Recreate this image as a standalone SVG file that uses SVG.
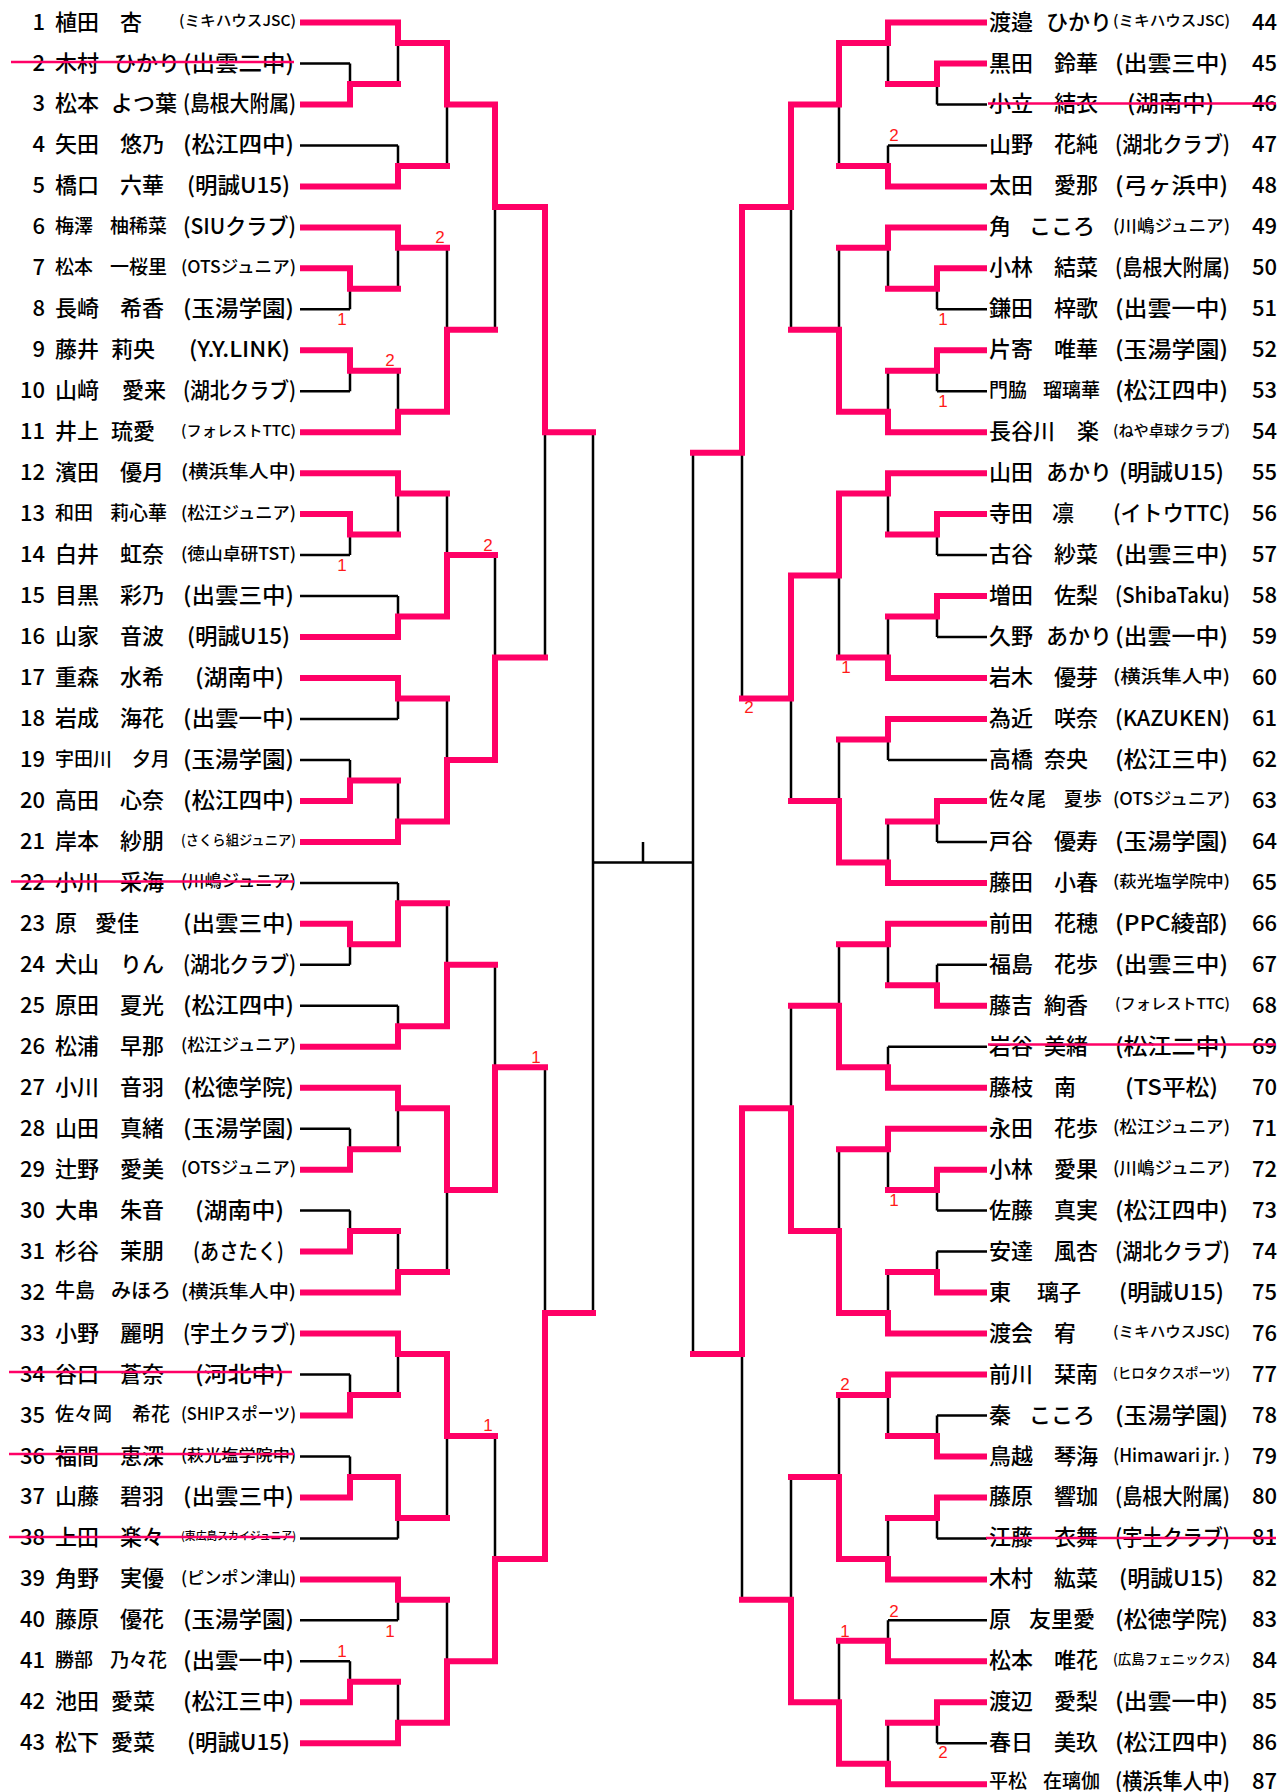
<svg xmlns="http://www.w3.org/2000/svg" width="1283" height="1792" viewBox="0 0 1283 1792">
<style>
text{font-family:"Noto Sans CJK JP","Noto Sans CJK SC",sans-serif;font-weight:500;dominant-baseline:central;fill:#000;transform:translateY(-3px)}
.no{font-size:22px;text-anchor:end}
.nr{font-size:22px}
.nm{font-size:22px}
.ns{font-size:19px}
.n20{font-size:20px}
.b{font-size:22px}
.m18{font-size:18px}
.m17{font-size:17px}
.s16{font-size:16px}
.s15{font-size:15px}
.s14{font-size:14px}
.t11{font-size:11px}
.lbl{font-family:"Liberation Sans Narrow","Liberation Sans",sans-serif;font-weight:400;font-size:17px;fill:#ff1a1a;text-anchor:middle;transform:translateY(-1px)}
.bk{fill:none;stroke:#000;stroke-width:2.5}
.pk{fill:none;stroke:#ff0066;stroke-width:6;stroke-linecap:square}
.st{stroke:#ff0066;stroke-width:2.5}
</style>
<rect width="1283" height="1792" fill="#fff"/>
<g id="connectors">
<path class="bk" d="M300 63.5H350M300 145.4H398M300 309.3H350M300 391.2H350M300 555.1H350M300 596.1H398M300 719H398M300 760H350M300 882.9H398M300 964.8H350M300 1005.8H398M300 1128.7H350M300 1210.6H350M300 1374.5H350M300 1456.5H350M300 1538.4H398M300 1620.3H398M300 1661.3H350
M350 63.5V83.9M350 309.3V288.8M350 391.2V370.7M350 555.1V534.6M350 760V780.4M350 964.8V944.3M350 1128.7V1149.2M350 1210.6V1231.1M350 1374.5V1395M350 1456.5V1476.9M350 1661.3V1681.8
M398 83.9V43M398 145.4V165.9M398 288.8V247.8M398 370.7V411.7M398 534.6V493.6M398 596.1V616.6M398 719V698.5M398 780.4V821.4M398 882.9V903.3M398 1005.8V1026.3M398 1149.2V1108.2M398 1231.1V1272.1M398 1395V1354M398 1538.4V1517.9M398 1620.3V1599.8M398 1681.8V1722.8
M447 165.9V104.4M447 247.8V329.8M447 493.6V555.1M447 698.5V760M447 903.3V964.8M447 1272.1V1190.1M447 1517.9V1436M447 1599.8V1661.3
M495 329.8V206.9M495 555.1V657.5M495 964.8V1067.2M495 1436V1558.9
M545 657.5V432.2M545 1067.2V1313
M593 432.2V1313M593 862.4H693M643 842V862.4"/>
<path class="bk" d="M987 104.4H937M987 145.4H888M987 309.3H937M987 391.2H937M987 555.1H937M987 637.1H937M987 760H888M987 841.9H937M987 964.8H937M987 1046.8H888M987 1210.6H937M987 1251.6H937M987 1415.5H937M987 1538.4H937M987 1620.3H888M987 1743.2H937
M937 104.4V83.9M937 309.3V288.8M937 391.2V370.7M937 555.1V534.6M937 637.1V616.6M937 841.9V821.4M937 964.8V985.3M937 1210.6V1190.1M937 1251.6V1272.1M937 1415.5V1436M937 1538.4V1517.9M937 1743.2V1722.8
M888 83.9V43M888 145.4V165.9M888 288.8V247.8M888 370.7V411.7M888 534.6V493.6M888 616.6V657.5M888 760V739.5M888 821.4V862.4M888 985.3V944.3M888 1046.8V1067.2M888 1190.1V1149.2M888 1272.1V1313M888 1436V1395M888 1517.9V1558.9M888 1620.3V1640.8M888 1722.8V1763.7
M839 165.9V104.4M839 247.8V329.8M839 657.5V575.6M839 739.5V800.9M839 944.3V1005.8M839 1149.2V1231.1M839 1395V1476.9M839 1640.8V1702.3
M791 329.8V206.9M791 800.9V698.5M791 1005.8V1108.2M791 1476.9V1599.8
M742 698.5V452.7M742 1599.8V1354
M693 452.7V1354"/>
<path class="pk" d="M303 22.5H398M303 104.4H350M303 186.4H398M303 227.4H398M303 268.3H350M303 350.3H350M303 432.2H398M303 473.2H398M303 514.1H350M303 637.1H398M303 678H398M303 800.9H350M303 841.9H398M303 923.8H350M303 1046.8H398M303 1087.7H398M303 1169.7H350M303 1251.6H350M303 1292.6H398M303 1333.5H398M303 1415.5H350M303 1497.4H350M303 1579.4H398M303 1702.3H350M303 1743.2H398
M350 104.4V83.9M350 268.3V288.8M350 350.3V370.7M350 514.1V534.6M350 800.9V780.4M350 923.8V944.3M350 1169.7V1149.2M350 1251.6V1231.1M350 1415.5V1395M350 1497.4V1476.9M350 1702.3V1681.8
M398 22.5V43M398 186.4V165.9M398 227.4V247.8M398 432.2V411.7M398 473.2V493.6M398 637.1V616.6M398 678V698.5M398 841.9V821.4M398 944.3V903.3M398 1046.8V1026.3M398 1087.7V1108.2M398 1292.6V1272.1M398 1333.5V1354M398 1476.9V1517.9M398 1579.4V1599.8M398 1743.2V1722.8
M447 43V104.4M447 411.7V329.8M447 616.6V555.1M447 821.4V760M447 1026.3V964.8M447 1108.2V1190.1M447 1354V1436M447 1722.8V1661.3
M495 104.4V206.9M495 760V657.5M495 1190.1V1067.2M495 1661.3V1558.9
M545 206.9V432.2M545 1558.9V1313
M350 83.9H398M350 288.8H398M350 370.7H398M350 534.6H398M350 780.4H398M350 944.3H398M350 1149.2H398M350 1231.1H398M350 1395H398M350 1476.9H398M350 1681.8H398
M398 43H447M398 165.9H447M398 247.8H447M398 411.7H447M398 493.6H447M398 616.6H447M398 698.5H447M398 821.4H447M398 903.3H447M398 1026.3H447M398 1108.2H447M398 1272.1H447M398 1354H447M398 1517.9H447M398 1599.8H447M398 1722.8H447
M447 104.4H495M447 329.8H495M447 555.1H495M447 760H495M447 964.8H495M447 1190.1H495M447 1436H495M447 1661.3H495
M495 206.9H545M495 657.5H545M495 1067.2H545M495 1558.9H545
M545 432.2H593M545 1313H593"/>
<path class="pk" d="M984 22.5H888M984 63.5H937M984 186.4H888M984 227.4H888M984 268.3H937M984 350.3H937M984 432.2H888M984 473.2H888M984 514.1H937M984 596.1H937M984 678H888M984 719H888M984 800.9H937M984 882.9H888M984 923.8H888M984 1005.8H937M984 1087.7H888M984 1128.7H888M984 1169.7H937M984 1292.6H937M984 1333.5H888M984 1374.5H888M984 1456.5H937M984 1497.4H937M984 1579.4H888M984 1661.3H888M984 1702.3H937M984 1784.2H888
M937 63.5V83.9M937 268.3V288.8M937 350.3V370.7M937 514.1V534.6M937 596.1V616.6M937 800.9V821.4M937 1005.8V985.3M937 1169.7V1190.1M937 1292.6V1272.1M937 1456.5V1436M937 1497.4V1517.9M937 1702.3V1722.8
M888 22.5V43M888 186.4V165.9M888 227.4V247.8M888 432.2V411.7M888 473.2V493.6M888 678V657.5M888 719V739.5M888 882.9V862.4M888 923.8V944.3M888 1087.7V1067.2M888 1128.7V1149.2M888 1333.5V1313M888 1374.5V1395M888 1579.4V1558.9M888 1661.3V1640.8M888 1784.2V1763.7
M839 43V104.4M839 411.7V329.8M839 493.6V575.6M839 862.4V800.9M839 1067.2V1005.8M839 1313V1231.1M839 1558.9V1476.9M839 1763.7V1702.3
M791 104.4V206.9M791 575.6V698.5M791 1231.1V1108.2M791 1702.3V1599.8
M742 206.9V452.7M742 1108.2V1354
M937 83.9H888M937 288.8H888M937 370.7H888M937 534.6H888M937 616.6H888M937 821.4H888M937 985.3H888M937 1190.1H888M937 1272.1H888M937 1436H888M937 1517.9H888M937 1722.8H888
M888 43H839M888 165.9H839M888 247.8H839M888 411.7H839M888 493.6H839M888 657.5H839M888 739.5H839M888 862.4H839M888 944.3H839M888 1067.2H839M888 1149.2H839M888 1313H839M888 1395H839M888 1558.9H839M888 1640.8H839M888 1763.7H839
M839 104.4H791M839 329.8H791M839 575.6H791M839 800.9H791M839 1005.8H791M839 1231.1H791M839 1476.9H791M839 1702.3H791
M791 206.9H742M791 698.5H742M791 1108.2H742M791 1599.8H742
M742 452.7H693M742 1354H693"/>
</g>
<g id="scores">
<text class="lbl" x="342" y="320">1</text>
<text class="lbl" x="440" y="238">2</text>
<text class="lbl" x="390" y="361">2</text>
<text class="lbl" x="342" y="566">1</text>
<text class="lbl" x="488" y="546">2</text>
<text class="lbl" x="536" y="1058">1</text>
<text class="lbl" x="488" y="1426">1</text>
<text class="lbl" x="390" y="1632">1</text>
<text class="lbl" x="342" y="1652">1</text>
<text class="lbl" x="894" y="136">2</text>
<text class="lbl" x="943" y="320">1</text>
<text class="lbl" x="943" y="402">1</text>
<text class="lbl" x="846" y="668">1</text>
<text class="lbl" x="749" y="708">2</text>
<text class="lbl" x="894" y="1201">1</text>
<text class="lbl" x="845" y="1385">2</text>
<text class="lbl" x="894" y="1612">2</text>
<text class="lbl" x="845" y="1632">1</text>
<text class="lbl" x="943" y="1753">2</text>
</g>
<g id="p1"><text class="no" x="45" y="22.5">1</text><text class="nm" x="55" y="22.5">植田</text><text class="nm" x="120" y="22.5">杏</text><text class="s15" x="179" y="22.5" textLength="117" lengthAdjust="spacingAndGlyphs">(ミキハウスJSC)</text></g>
<g id="p2"><text class="no" x="45" y="63.5">2</text><text class="nm" x="55" y="63.5">木村</text><text class="nm" x="114" y="63.5">ひかり</text><text class="b" x="183" y="63.5" textLength="111" lengthAdjust="spacingAndGlyphs">(出雲二中)</text><line class="st" x1="11" y1="62" x2="294" y2="62"/></g>
<g id="p3"><text class="no" x="45" y="104.4">3</text><text class="nm" x="55" y="104.4">松本</text><text class="nm" x="111" y="104.4">よつ葉</text><text class="b" x="183" y="104.4" textLength="113" lengthAdjust="spacingAndGlyphs">(島根大附属)</text></g>
<g id="p4"><text class="no" x="45" y="145.4">4</text><text class="nm" x="55" y="145.4">矢田</text><text class="nm" x="120" y="145.4">悠乃</text><text class="b" x="183" y="145.4" textLength="111" lengthAdjust="spacingAndGlyphs">(松江四中)</text></g>
<g id="p5"><text class="no" x="45" y="186.4">5</text><text class="nm" x="55" y="186.4">橋口</text><text class="nm" x="120" y="186.4">六華</text><text class="b" x="187" y="186.4" textLength="103" lengthAdjust="spacingAndGlyphs">(明誠U15)</text></g>
<g id="p6"><text class="no" x="45" y="227.4">6</text><text class="ns" x="55" y="227.4">梅澤</text><text class="ns" x="110" y="227.4">柚稀菜</text><text class="b" x="183" y="227.4" textLength="113" lengthAdjust="spacingAndGlyphs">(SIUクラブ)</text></g>
<g id="p7"><text class="no" x="45" y="268.3">7</text><text class="ns" x="55" y="268.3">松本</text><text class="ns" x="110" y="268.3">一桜里</text><text class="m17" x="181" y="268.3" textLength="115" lengthAdjust="spacingAndGlyphs">(OTSジュニア)</text></g>
<g id="p8"><text class="no" x="45" y="309.3">8</text><text class="nm" x="55" y="309.3">長崎</text><text class="nm" x="120" y="309.3">希香</text><text class="b" x="183" y="309.3" textLength="111" lengthAdjust="spacingAndGlyphs">(玉湯学園)</text></g>
<g id="p9"><text class="no" x="45" y="350.3">9</text><text class="nm" x="55" y="350.3">藤井</text><text class="nm" x="111" y="350.3">莉央</text><text class="b" x="189" y="350.3" textLength="101" lengthAdjust="spacingAndGlyphs">(Y.Y.LINK)</text></g>
<g id="p10"><text class="no" x="45" y="391.2">10</text><text class="nm" x="55" y="391.2">山﨑</text><text class="nm" x="122" y="391.2">愛来</text><text class="b" x="183" y="391.2" textLength="113" lengthAdjust="spacingAndGlyphs">(湖北クラブ)</text></g>
<g id="p11"><text class="no" x="45" y="432.2">11</text><text class="nm" x="55" y="432.2">井上</text><text class="nm" x="111" y="432.2">琉愛</text><text class="s15" x="181" y="432.2" textLength="115" lengthAdjust="spacingAndGlyphs">(フォレストTTC)</text></g>
<g id="p12"><text class="no" x="45" y="473.2">12</text><text class="nm" x="55" y="473.2">濱田</text><text class="nm" x="120" y="473.2">優月</text><text class="m18" x="181" y="473.2" textLength="115" lengthAdjust="spacingAndGlyphs">(横浜隼人中)</text></g>
<g id="p13"><text class="no" x="45" y="514.1">13</text><text class="ns" x="55" y="514.1">和田</text><text class="ns" x="110" y="514.1">莉心華</text><text class="m17" x="181" y="514.1" textLength="115" lengthAdjust="spacingAndGlyphs">(松江ジュニア)</text></g>
<g id="p14"><text class="no" x="45" y="555.1">14</text><text class="nm" x="55" y="555.1">白井</text><text class="nm" x="120" y="555.1">虹奈</text><text class="m17" x="181" y="555.1" textLength="115" lengthAdjust="spacingAndGlyphs">(徳山卓研TST)</text></g>
<g id="p15"><text class="no" x="45" y="596.1">15</text><text class="nm" x="55" y="596.1">目黒</text><text class="nm" x="120" y="596.1">彩乃</text><text class="b" x="183" y="596.1" textLength="111" lengthAdjust="spacingAndGlyphs">(出雲三中)</text></g>
<g id="p16"><text class="no" x="45" y="637.1">16</text><text class="nm" x="55" y="637.1">山家</text><text class="nm" x="120" y="637.1">音波</text><text class="b" x="187" y="637.1" textLength="103" lengthAdjust="spacingAndGlyphs">(明誠U15)</text></g>
<g id="p17"><text class="no" x="45" y="678">17</text><text class="nm" x="55" y="678">重森</text><text class="nm" x="120" y="678">水希</text><text class="b" x="195" y="678" textLength="89" lengthAdjust="spacingAndGlyphs">(湖南中)</text></g>
<g id="p18"><text class="no" x="45" y="719">18</text><text class="nm" x="55" y="719">岩成</text><text class="nm" x="120" y="719">海花</text><text class="b" x="183" y="719" textLength="111" lengthAdjust="spacingAndGlyphs">(出雲一中)</text></g>
<g id="p19"><text class="no" x="45" y="760">19</text><text class="ns" x="55" y="760">宇田川</text><text class="ns" x="132" y="760">夕月</text><text class="b" x="183" y="760" textLength="111" lengthAdjust="spacingAndGlyphs">(玉湯学園)</text></g>
<g id="p20"><text class="no" x="45" y="800.9">20</text><text class="nm" x="55" y="800.9">高田</text><text class="nm" x="120" y="800.9">心奈</text><text class="b" x="183" y="800.9" textLength="111" lengthAdjust="spacingAndGlyphs">(松江四中)</text></g>
<g id="p21"><text class="no" x="45" y="841.9">21</text><text class="nm" x="55" y="841.9">岸本</text><text class="nm" x="120" y="841.9">紗朋</text><text class="s14" x="181" y="841.9" textLength="115" lengthAdjust="spacingAndGlyphs">(さくら組ジュニア)</text></g>
<g id="p22"><text class="no" x="45" y="882.9">22</text><text class="nm" x="55" y="882.9">小川</text><text class="nm" x="120" y="882.9">采海</text><text class="m17" x="181" y="882.9" textLength="115" lengthAdjust="spacingAndGlyphs">(川嶋ジュニア)</text><line class="st" x1="11" y1="881.5" x2="294" y2="881.5"/></g>
<g id="p23"><text class="no" x="45" y="923.8">23</text><text class="nm" x="55" y="923.8">原</text><text class="nm" x="95" y="923.8">愛佳</text><text class="b" x="183" y="923.8" textLength="111" lengthAdjust="spacingAndGlyphs">(出雲三中)</text></g>
<g id="p24"><text class="no" x="45" y="964.8">24</text><text class="nm" x="55" y="964.8">犬山</text><text class="nm" x="120" y="964.8">りん</text><text class="b" x="183" y="964.8" textLength="113" lengthAdjust="spacingAndGlyphs">(湖北クラブ)</text></g>
<g id="p25"><text class="no" x="45" y="1005.8">25</text><text class="nm" x="55" y="1005.8">原田</text><text class="nm" x="120" y="1005.8">夏光</text><text class="b" x="183" y="1005.8" textLength="111" lengthAdjust="spacingAndGlyphs">(松江四中)</text></g>
<g id="p26"><text class="no" x="45" y="1046.8">26</text><text class="nm" x="55" y="1046.8">松浦</text><text class="nm" x="120" y="1046.8">早那</text><text class="m17" x="181" y="1046.8" textLength="115" lengthAdjust="spacingAndGlyphs">(松江ジュニア)</text></g>
<g id="p27"><text class="no" x="45" y="1087.7">27</text><text class="nm" x="55" y="1087.7">小川</text><text class="nm" x="120" y="1087.7">音羽</text><text class="b" x="183" y="1087.7" textLength="111" lengthAdjust="spacingAndGlyphs">(松徳学院)</text></g>
<g id="p28"><text class="no" x="45" y="1128.7">28</text><text class="nm" x="55" y="1128.7">山田</text><text class="nm" x="120" y="1128.7">真緒</text><text class="b" x="183" y="1128.7" textLength="111" lengthAdjust="spacingAndGlyphs">(玉湯学園)</text></g>
<g id="p29"><text class="no" x="45" y="1169.7">29</text><text class="nm" x="55" y="1169.7">辻野</text><text class="nm" x="120" y="1169.7">愛美</text><text class="m17" x="181" y="1169.7" textLength="115" lengthAdjust="spacingAndGlyphs">(OTSジュニア)</text></g>
<g id="p30"><text class="no" x="45" y="1210.6">30</text><text class="nm" x="55" y="1210.6">大串</text><text class="nm" x="120" y="1210.6">朱音</text><text class="b" x="195" y="1210.6" textLength="89" lengthAdjust="spacingAndGlyphs">(湖南中)</text></g>
<g id="p31"><text class="no" x="45" y="1251.6">31</text><text class="nm" x="55" y="1251.6">杉谷</text><text class="nm" x="120" y="1251.6">茉朋</text><text class="b" x="193" y="1251.6" textLength="91" lengthAdjust="spacingAndGlyphs">(あさたく)</text></g>
<g id="p32"><text class="no" x="45" y="1292.6">32</text><text class="n20" x="55" y="1292.6">牛島</text><text class="n20" x="111" y="1292.6">みほろ</text><text class="m18" x="181" y="1292.6" textLength="115" lengthAdjust="spacingAndGlyphs">(横浜隼人中)</text></g>
<g id="p33"><text class="no" x="45" y="1333.5">33</text><text class="nm" x="55" y="1333.5">小野</text><text class="nm" x="120" y="1333.5">麗明</text><text class="b" x="183" y="1333.5" textLength="113" lengthAdjust="spacingAndGlyphs">(宇土クラブ)</text></g>
<g id="p34"><text class="no" x="45" y="1374.5">34</text><text class="nm" x="55" y="1374.5">谷口</text><text class="nm" x="120" y="1374.5">蒼奈</text><text class="b" x="195" y="1374.5" textLength="89" lengthAdjust="spacingAndGlyphs">(河北中)</text><line class="st" x1="9" y1="1372" x2="292" y2="1372"/></g>
<g id="p35"><text class="no" x="45" y="1415.5">35</text><text class="ns" x="55" y="1415.5">佐々岡</text><text class="ns" x="132" y="1415.5">希花</text><text class="m17" x="181" y="1415.5" textLength="115" lengthAdjust="spacingAndGlyphs">(SHIPスポーツ)</text></g>
<g id="p36"><text class="no" x="45" y="1456.5">36</text><text class="nm" x="55" y="1456.5">福間</text><text class="nm" x="120" y="1456.5">恵深</text><text class="s16" x="181" y="1456.5" textLength="115" lengthAdjust="spacingAndGlyphs">(萩光塩学院中)</text><line class="st" x1="9" y1="1454" x2="294" y2="1454"/></g>
<g id="p37"><text class="no" x="45" y="1497.4">37</text><text class="nm" x="55" y="1497.4">山藤</text><text class="nm" x="120" y="1497.4">碧羽</text><text class="b" x="183" y="1497.4" textLength="111" lengthAdjust="spacingAndGlyphs">(出雲三中)</text></g>
<g id="p38"><text class="no" x="45" y="1538.4">38</text><text class="nm" x="55" y="1538.4">上田</text><text class="nm" x="120" y="1538.4">楽々</text><text class="t11" x="181" y="1538.4" textLength="115" lengthAdjust="spacingAndGlyphs">(東広島スカイジュニア)</text><line class="st" x1="9" y1="1537" x2="294" y2="1537"/></g>
<g id="p39"><text class="no" x="45" y="1579.4">39</text><text class="nm" x="55" y="1579.4">角野</text><text class="nm" x="120" y="1579.4">実優</text><text class="m17" x="181" y="1579.4" textLength="115" lengthAdjust="spacingAndGlyphs">(ピンポン津山)</text></g>
<g id="p40"><text class="no" x="45" y="1620.3">40</text><text class="nm" x="55" y="1620.3">藤原</text><text class="nm" x="120" y="1620.3">優花</text><text class="b" x="183" y="1620.3" textLength="111" lengthAdjust="spacingAndGlyphs">(玉湯学園)</text></g>
<g id="p41"><text class="no" x="45" y="1661.3">41</text><text class="ns" x="55" y="1661.3">勝部</text><text class="ns" x="110" y="1661.3">乃々花</text><text class="b" x="183" y="1661.3" textLength="111" lengthAdjust="spacingAndGlyphs">(出雲一中)</text></g>
<g id="p42"><text class="no" x="45" y="1702.3">42</text><text class="nm" x="55" y="1702.3">池田</text><text class="nm" x="111" y="1702.3">愛菜</text><text class="b" x="183" y="1702.3" textLength="111" lengthAdjust="spacingAndGlyphs">(松江三中)</text></g>
<g id="p43"><text class="no" x="45" y="1743.2">43</text><text class="nm" x="55" y="1743.2">松下</text><text class="nm" x="111" y="1743.2">愛菜</text><text class="b" x="187" y="1743.2" textLength="103" lengthAdjust="spacingAndGlyphs">(明誠U15)</text></g>
<g id="p44"><text class="nm" x="989" y="22.5">渡邉</text><text class="nm" x="1046" y="22.5">ひかり</text><text class="s15" x="1113" y="22.5" textLength="117" lengthAdjust="spacingAndGlyphs">(ミキハウスJSC)</text><text class="nr" x="1252" y="22.5">44</text></g>
<g id="p45"><text class="nm" x="989" y="63.5">黒田</text><text class="nm" x="1054" y="63.5">鈴華</text><text class="b" x="1115" y="63.5" textLength="113" lengthAdjust="spacingAndGlyphs">(出雲三中)</text><text class="nr" x="1252" y="63.5">45</text></g>
<g id="p46"><text class="nm" x="989" y="104.4">小立</text><text class="nm" x="1054" y="104.4">結衣</text><text class="b" x="1127" y="104.4" textLength="87" lengthAdjust="spacingAndGlyphs">(湖南中)</text><text class="nr" x="1252" y="104.4">46</text><line class="st" x1="988" y1="103.5" x2="1276" y2="103.5"/></g>
<g id="p47"><text class="nm" x="989" y="145.4">山野</text><text class="nm" x="1054" y="145.4">花純</text><text class="b" x="1115" y="145.4" textLength="115" lengthAdjust="spacingAndGlyphs">(湖北クラブ)</text><text class="nr" x="1252" y="145.4">47</text></g>
<g id="p48"><text class="nm" x="989" y="186.4">太田</text><text class="nm" x="1054" y="186.4">愛那</text><text class="b" x="1115" y="186.4" textLength="113" lengthAdjust="spacingAndGlyphs">(弓ヶ浜中)</text><text class="nr" x="1252" y="186.4">48</text></g>
<g id="p49"><text class="nm" x="989" y="227.4">角</text><text class="nm" x="1029" y="227.4">こころ</text><text class="m17" x="1113" y="227.4" textLength="117" lengthAdjust="spacingAndGlyphs">(川嶋ジュニア)</text><text class="nr" x="1252" y="227.4">49</text></g>
<g id="p50"><text class="nm" x="989" y="268.3">小林</text><text class="nm" x="1054" y="268.3">結菜</text><text class="b" x="1115" y="268.3" textLength="115" lengthAdjust="spacingAndGlyphs">(島根大附属)</text><text class="nr" x="1252" y="268.3">50</text></g>
<g id="p51"><text class="nm" x="989" y="309.3">鎌田</text><text class="nm" x="1054" y="309.3">梓歌</text><text class="b" x="1115" y="309.3" textLength="113" lengthAdjust="spacingAndGlyphs">(出雲一中)</text><text class="nr" x="1252" y="309.3">51</text></g>
<g id="p52"><text class="nm" x="989" y="350.3">片寄</text><text class="nm" x="1054" y="350.3">唯華</text><text class="b" x="1115" y="350.3" textLength="113" lengthAdjust="spacingAndGlyphs">(玉湯学園)</text><text class="nr" x="1252" y="350.3">52</text></g>
<g id="p53"><text class="ns" x="989" y="391.2">門脇</text><text class="ns" x="1043" y="391.2">瑠璃華</text><text class="b" x="1115" y="391.2" textLength="113" lengthAdjust="spacingAndGlyphs">(松江四中)</text><text class="nr" x="1252" y="391.2">53</text></g>
<g id="p54"><text class="nm" x="989" y="432.2">長谷川</text><text class="nm" x="1077" y="432.2">楽</text><text class="s15" x="1113" y="432.2" textLength="117" lengthAdjust="spacingAndGlyphs">(ねや卓球クラブ)</text><text class="nr" x="1252" y="432.2">54</text></g>
<g id="p55"><text class="nm" x="989" y="473.2">山田</text><text class="nm" x="1046" y="473.2">あかり</text><text class="b" x="1119" y="473.2" textLength="105" lengthAdjust="spacingAndGlyphs">(明誠U15)</text><text class="nr" x="1252" y="473.2">55</text></g>
<g id="p56"><text class="nm" x="989" y="514.1">寺田</text><text class="nm" x="1052" y="514.1">凛</text><text class="b" x="1113" y="514.1" textLength="117" lengthAdjust="spacingAndGlyphs">(イトウTTC)</text><text class="nr" x="1252" y="514.1">56</text></g>
<g id="p57"><text class="nm" x="989" y="555.1">古谷</text><text class="nm" x="1054" y="555.1">紗菜</text><text class="b" x="1115" y="555.1" textLength="113" lengthAdjust="spacingAndGlyphs">(出雲三中)</text><text class="nr" x="1252" y="555.1">57</text></g>
<g id="p58"><text class="nm" x="989" y="596.1">増田</text><text class="nm" x="1054" y="596.1">佐梨</text><text class="b" x="1115" y="596.1" textLength="115" lengthAdjust="spacingAndGlyphs">(ShibaTaku)</text><text class="nr" x="1252" y="596.1">58</text></g>
<g id="p59"><text class="nm" x="989" y="637.1">久野</text><text class="nm" x="1046" y="637.1">あかり</text><text class="b" x="1115" y="637.1" textLength="113" lengthAdjust="spacingAndGlyphs">(出雲一中)</text><text class="nr" x="1252" y="637.1">59</text></g>
<g id="p60"><text class="nm" x="989" y="678">岩木</text><text class="nm" x="1054" y="678">優芽</text><text class="m18" x="1113" y="678" textLength="117" lengthAdjust="spacingAndGlyphs">(横浜隼人中)</text><text class="nr" x="1252" y="678">60</text></g>
<g id="p61"><text class="nm" x="989" y="719">為近</text><text class="nm" x="1054" y="719">咲奈</text><text class="b" x="1115" y="719" textLength="115" lengthAdjust="spacingAndGlyphs">(KAZUKEN)</text><text class="nr" x="1252" y="719">61</text></g>
<g id="p62"><text class="nm" x="989" y="760">高橋</text><text class="nm" x="1044" y="760">奈央</text><text class="b" x="1115" y="760" textLength="113" lengthAdjust="spacingAndGlyphs">(松江三中)</text><text class="nr" x="1252" y="760">62</text></g>
<g id="p63"><text class="ns" x="989" y="800.9">佐々尾</text><text class="ns" x="1064" y="800.9">夏歩</text><text class="m17" x="1113" y="800.9" textLength="117" lengthAdjust="spacingAndGlyphs">(OTSジュニア)</text><text class="nr" x="1252" y="800.9">63</text></g>
<g id="p64"><text class="nm" x="989" y="841.9">戸谷</text><text class="nm" x="1054" y="841.9">優寿</text><text class="b" x="1115" y="841.9" textLength="113" lengthAdjust="spacingAndGlyphs">(玉湯学園)</text><text class="nr" x="1252" y="841.9">64</text></g>
<g id="p65"><text class="nm" x="989" y="882.9">藤田</text><text class="nm" x="1054" y="882.9">小春</text><text class="s16" x="1113" y="882.9" textLength="117" lengthAdjust="spacingAndGlyphs">(萩光塩学院中)</text><text class="nr" x="1252" y="882.9">65</text></g>
<g id="p66"><text class="nm" x="989" y="923.8">前田</text><text class="nm" x="1054" y="923.8">花穂</text><text class="b" x="1115" y="923.8" textLength="113" lengthAdjust="spacingAndGlyphs">(PPC綾部)</text><text class="nr" x="1252" y="923.8">66</text></g>
<g id="p67"><text class="nm" x="989" y="964.8">福島</text><text class="nm" x="1054" y="964.8">花歩</text><text class="b" x="1115" y="964.8" textLength="113" lengthAdjust="spacingAndGlyphs">(出雲三中)</text><text class="nr" x="1252" y="964.8">67</text></g>
<g id="p68"><text class="nm" x="989" y="1005.8">藤吉</text><text class="nm" x="1044" y="1005.8">絢香</text><text class="s15" x="1115" y="1005.8" textLength="115" lengthAdjust="spacingAndGlyphs">(フォレストTTC)</text><text class="nr" x="1252" y="1005.8">68</text></g>
<g id="p69"><text class="nm" x="989" y="1046.8">岩谷</text><text class="nm" x="1044" y="1046.8">美緒</text><text class="b" x="1115" y="1046.8" textLength="113" lengthAdjust="spacingAndGlyphs">(松江二中)</text><text class="nr" x="1252" y="1046.8">69</text><line class="st" x1="988" y1="1044.5" x2="1276" y2="1044.5"/></g>
<g id="p70"><text class="nm" x="989" y="1087.7">藤枝</text><text class="nm" x="1054" y="1087.7">南</text><text class="b" x="1125" y="1087.7" textLength="93" lengthAdjust="spacingAndGlyphs">(TS平松)</text><text class="nr" x="1252" y="1087.7">70</text></g>
<g id="p71"><text class="nm" x="989" y="1128.7">永田</text><text class="nm" x="1054" y="1128.7">花歩</text><text class="m17" x="1113" y="1128.7" textLength="117" lengthAdjust="spacingAndGlyphs">(松江ジュニア)</text><text class="nr" x="1252" y="1128.7">71</text></g>
<g id="p72"><text class="nm" x="989" y="1169.7">小林</text><text class="nm" x="1054" y="1169.7">愛果</text><text class="m17" x="1113" y="1169.7" textLength="117" lengthAdjust="spacingAndGlyphs">(川嶋ジュニア)</text><text class="nr" x="1252" y="1169.7">72</text></g>
<g id="p73"><text class="nm" x="989" y="1210.6">佐藤</text><text class="nm" x="1054" y="1210.6">真実</text><text class="b" x="1115" y="1210.6" textLength="113" lengthAdjust="spacingAndGlyphs">(松江四中)</text><text class="nr" x="1252" y="1210.6">73</text></g>
<g id="p74"><text class="nm" x="989" y="1251.6">安達</text><text class="nm" x="1054" y="1251.6">風杏</text><text class="b" x="1115" y="1251.6" textLength="115" lengthAdjust="spacingAndGlyphs">(湖北クラブ)</text><text class="nr" x="1252" y="1251.6">74</text></g>
<g id="p75"><text class="nm" x="989" y="1292.6">東</text><text class="nm" x="1037" y="1292.6">璃子</text><text class="b" x="1119" y="1292.6" textLength="105" lengthAdjust="spacingAndGlyphs">(明誠U15)</text><text class="nr" x="1252" y="1292.6">75</text></g>
<g id="p76"><text class="nm" x="989" y="1333.5">渡会</text><text class="nm" x="1054" y="1333.5">宥</text><text class="s15" x="1113" y="1333.5" textLength="117" lengthAdjust="spacingAndGlyphs">(ミキハウスJSC)</text><text class="nr" x="1252" y="1333.5">76</text></g>
<g id="p77"><text class="nm" x="989" y="1374.5">前川</text><text class="nm" x="1054" y="1374.5">栞南</text><text class="s14" x="1113" y="1374.5" textLength="117" lengthAdjust="spacingAndGlyphs">(ヒロタクスポーツ)</text><text class="nr" x="1252" y="1374.5">77</text></g>
<g id="p78"><text class="nm" x="989" y="1415.5">秦</text><text class="nm" x="1029" y="1415.5">こころ</text><text class="b" x="1115" y="1415.5" textLength="113" lengthAdjust="spacingAndGlyphs">(玉湯学園)</text><text class="nr" x="1252" y="1415.5">78</text></g>
<g id="p79"><text class="nm" x="989" y="1456.5">鳥越</text><text class="nm" x="1054" y="1456.5">琴海</text><text class="m18" x="1113" y="1456.5" textLength="117" lengthAdjust="spacingAndGlyphs">(Himawari  jr. )</text><text class="nr" x="1252" y="1456.5">79</text></g>
<g id="p80"><text class="nm" x="989" y="1497.4">藤原</text><text class="nm" x="1054" y="1497.4">響珈</text><text class="b" x="1115" y="1497.4" textLength="115" lengthAdjust="spacingAndGlyphs">(島根大附属)</text><text class="nr" x="1252" y="1497.4">80</text></g>
<g id="p81"><text class="nm" x="989" y="1538.4">江藤</text><text class="nm" x="1054" y="1538.4">衣舞</text><text class="b" x="1115" y="1538.4" textLength="115" lengthAdjust="spacingAndGlyphs">(宇土クラブ)</text><text class="nr" x="1252" y="1538.4">81</text><line class="st" x1="986" y1="1538" x2="1276" y2="1538"/></g>
<g id="p82"><text class="nm" x="989" y="1579.4">木村</text><text class="nm" x="1054" y="1579.4">紘菜</text><text class="b" x="1119" y="1579.4" textLength="105" lengthAdjust="spacingAndGlyphs">(明誠U15)</text><text class="nr" x="1252" y="1579.4">82</text></g>
<g id="p83"><text class="nm" x="989" y="1620.3">原</text><text class="nm" x="1029" y="1620.3">友里愛</text><text class="b" x="1115" y="1620.3" textLength="113" lengthAdjust="spacingAndGlyphs">(松徳学院)</text><text class="nr" x="1252" y="1620.3">83</text></g>
<g id="p84"><text class="nm" x="989" y="1661.3">松本</text><text class="nm" x="1054" y="1661.3">唯花</text><text class="s14" x="1113" y="1661.3" textLength="117" lengthAdjust="spacingAndGlyphs">(広島フェニックス)</text><text class="nr" x="1252" y="1661.3">84</text></g>
<g id="p85"><text class="nm" x="989" y="1702.3">渡辺</text><text class="nm" x="1054" y="1702.3">愛梨</text><text class="b" x="1115" y="1702.3" textLength="113" lengthAdjust="spacingAndGlyphs">(出雲一中)</text><text class="nr" x="1252" y="1702.3">85</text></g>
<g id="p86"><text class="nm" x="989" y="1743.2">春日</text><text class="nm" x="1054" y="1743.2">美玖</text><text class="b" x="1115" y="1743.2" textLength="113" lengthAdjust="spacingAndGlyphs">(松江四中)</text><text class="nr" x="1252" y="1743.2">86</text></g>
<g id="p87"><text class="ns" x="989" y="1782">平松</text><text class="ns" x="1043" y="1782">在璃伽</text><text class="b" x="1115" y="1782" textLength="115" lengthAdjust="spacingAndGlyphs">(横浜隼人中)</text><text class="nr" x="1252" y="1782">87</text></g>
</svg>
